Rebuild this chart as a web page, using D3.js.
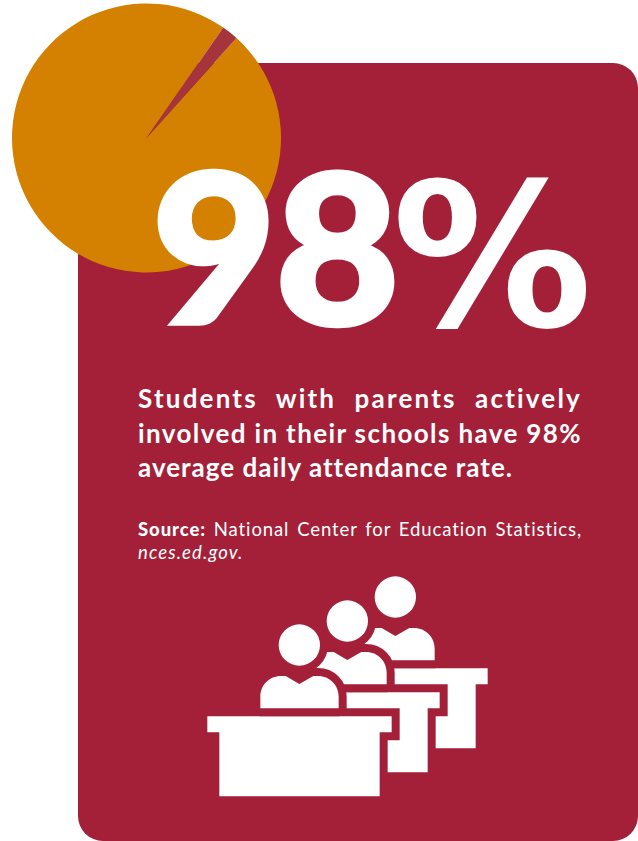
<!DOCTYPE html>
<html>
<head>
<meta charset="utf-8">
<script src="https://cdn.jsdelivr.net/npm/d3@7"></script>
<style>
html,body{margin:0;padding:0;background:#fff}
svg{display:block}
text{font-family:Lato,sans-serif;fill:#fff}
</style>
</head>
<body>
<svg id="chart" width="638" height="841"></svg>
<script>
// Share of average daily attendance
const categories = ["Attended", "Absent"];
const values = [98, 2];
const bigValue = "98";
const bigSign = "%";
const bodyLines = [
  "Students with parents actively",
  "involved in their schools have 98%",
  "average daily attendance rate."
];
const sourceLabel = "Source:";
const sourceLines = ["National Center for Education Statistics,", "nces.ed.gov."];

const crimson = "#a32038", orange = "#d48000", sliver = "#a6343c";
const svg = d3.select("#chart");

// Card with rounded corners running off the right edge of the page
svg.append("rect").attr("x",78).attr("y",63).attr("width",560).attr("height",778)
  .attr("rx",25).attr("fill",crimson);

// Pie: the small slice is rotated to sit at the upper right
const startOffset = (42.0 * Math.PI) / 180;
const pie = d3.pie().sort(null).startAngle(startOffset).endAngle(startOffset + 2*Math.PI);
const arc = d3.arc().innerRadius(0).outerRadius(134.5);
svg.append("g").attr("transform","translate(146.5,138)")
  .selectAll("path").data(pie(values)).join("path")
  .attr("d",arc)
  .attr("fill",(d,i)=> categories[i]==="Absent" ? sliver : orange);

// Headline figure, thickened with a white outline
svg.append("text").attr("transform","translate(152,324) scale(1.03,1)")
  .attr("font-size",208).attr("font-weight",900).attr("letter-spacing",-1)
  .attr("stroke","#fff").attr("stroke-width",4.5).attr("stroke-linejoin","miter")
  .text(bigValue);
svg.append("text").attr("x",392).attr("y",326)
  .style("font-family","'DejaVu Sans'")
  .attr("font-size",200).attr("font-weight",700)
  .text(bigSign);

// Fills a line out to the column width by widening the word gaps
function justify(sel, width){
  const t = sel.text();
  const gaps = t.split(" ").length - 1;
  const w = sel.node().getComputedTextLength();
  sel.attr("word-spacing",(width-w)/gaps);
}

const textX = 138, colW = 444;
const bodyY = [408,443,477];
const bodyTracking = [2.2,1.4,1];
bodyLines.forEach((line,i)=>{
  const t = svg.append("text").attr("x",textX).attr("y",bodyY[i])
    .attr("font-size",26).attr("font-weight",700).attr("letter-spacing",bodyTracking[i]).text(line);
  if(i<2) justify(t,colW);
});

// Source note: bold label, regular text, italic address
const src = svg.append("text").attr("x",textX).attr("y",536)
  .attr("font-size",18.5).attr("letter-spacing",0.9);
src.append("tspan").attr("font-weight",900).text(sourceLabel);
src.append("tspan").text(" "+sourceLines[0]);
justify(src,colW);
svg.append("text").attr("x",textX).attr("y",559).attr("font-size",18.5).attr("letter-spacing",1.1)
  .attr("font-style","italic").text(sourceLines[1]);

// Classroom icon: three identical desk-and-pupil units, back to front
const deskPath = "M52,469H605V517H569V709H88V517H52Z";
const bodyPath = "M211,445V410C211,375 238,348 273,348H287L328,372L370,348H384C419,348 446,375 446,410V445Z";
const unitSteps = [2,1,0];
const icon = svg.append("g").attr("transform","translate(190,560) scale(0.33333)");
const units = icon.selectAll("g").data(unitSteps).join("g")
  .attr("transform",d=>`translate(${d*144},${-d*72})`);
units.append("path").attr("d",deskPath).attr("fill","#fff")
  .attr("stroke",crimson).attr("stroke-width",48).attr("paint-order","stroke");
units.append("path").attr("d",bodyPath).attr("fill","#fff")
  .attr("stroke",crimson).attr("stroke-width",48).attr("stroke-linejoin","round").attr("paint-order","stroke");
units.append("circle").attr("cx",328).attr("cy",255).attr("r",62).attr("fill","#fff")
  .attr("stroke",crimson).attr("stroke-width",48).attr("paint-order","stroke");
</script>
</body>
</html>
